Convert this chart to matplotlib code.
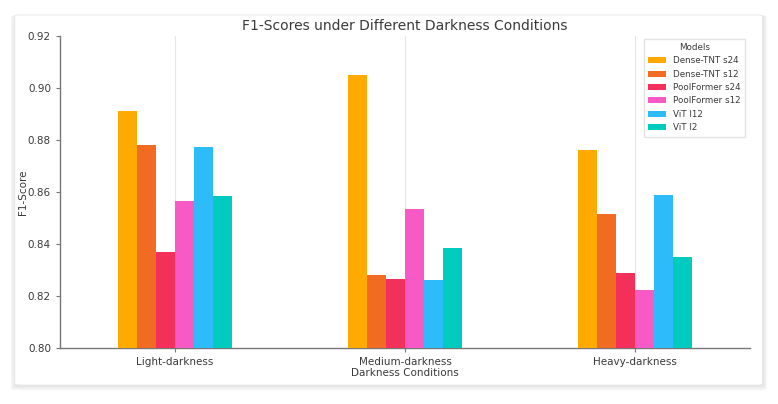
import matplotlib.pyplot as plt
import numpy as np
from matplotlib.patches import FancyBboxPatch

conditions = ['Light-darkness', 'Medium-darkness', 'Heavy-darkness']
models = ['Dense-TNT s24', 'Dense-TNT s12', 'PoolFormer s24', 'PoolFormer s12', 'ViT l12', 'ViT l2']
dense_tnt_s24 = [0.891, 0.905, 0.876]
dense_tnt_s12 = [0.878, 0.828, 0.8515]
poolformer_s24 = [0.837, 0.8265, 0.829]
poolformer_s12 = [0.8565, 0.8535, 0.8223]
vit_l12 = [0.8775, 0.8262, 0.859]
vit_l2 = [0.8585, 0.8385, 0.835]
colors = ['#FFAA00', '#F26B22', '#F2305A', '#F75AC4', '#2DBBF9', '#00CBBE']

series = [dense_tnt_s24, dense_tnt_s12, poolformer_s24, poolformer_s12, vit_l12, vit_l2]

fig = plt.figure(figsize=(7.78, 4.04), dpi=100)
fig.patch.set_facecolor('white')

# card with soft shadow
for i, a in enumerate([0.03, 0.03, 0.04]):
    fig.patches.append(FancyBboxPatch((0.018 - i * 0.002, 0.042 - i * 0.004), 0.964 + i * 0.004, 0.92 + i * 0.004,
                                      boxstyle='round,pad=0,rounding_size=0.005', transform=fig.transFigure,
                                      facecolor='black', alpha=a, edgecolor='none', zorder=-3))
fig.patches.append(FancyBboxPatch((0.019, 0.047), 0.961, 0.916,
                                  boxstyle='round,pad=0,rounding_size=0.005', transform=fig.transFigure,
                                  facecolor='white', edgecolor='#e6e6e6', linewidth=0.6, zorder=-2))

ax = fig.add_axes([60 / 778, 56 / 404, 690 / 778, 312 / 404])
ax.set_facecolor('none')

x = np.arange(len(conditions))
width = 0.083
for i, (vals, name) in enumerate(zip(series, models)):
    ax.bar(x + (i - 2.5) * width, vals, width, label=name, color=colors[i], zorder=3)

ax.set_xlim(-0.5, 2.5)
ax.set_ylim(0.80, 0.92)
ax.set_yticks(np.arange(0.80, 0.921, 0.02))
ax.set_xticks(x)
ax.set_xticklabels(conditions)
ax.grid(axis='x', color='#e6e6e6', linewidth=0.8, zorder=0)

txt = '#3a3a3a'
ax.set_title('F1-Scores under Different Darkness Conditions', fontsize=10, color=txt, pad=4.5)
ax.set_xlabel('Darkness Conditions', fontsize=7.5, color=txt, labelpad=1)
ax.set_ylabel('F1-Score', fontsize=7.5, color=txt, labelpad=0)
ax.tick_params(labelsize=7.5, colors=txt, length=3, color='#777777')
for s in ['top', 'right']:
    ax.spines[s].set_visible(False)
for s in ['left', 'bottom']:
    ax.spines[s].set_color('#777777')
    ax.spines[s].set_linewidth(1.0)

leg = ax.legend(title='Models', loc='upper right', fontsize=6.3, title_fontsize=6.3,
                frameon=True, fancybox=False, edgecolor='#dddddd', borderpad=0.5,
                handlelength=2.0, labelspacing=0.5, bbox_to_anchor=(0.9985, 1.006))
for t in leg.get_texts():
    t.set_color(txt)
leg.get_title().set_color(txt)

fig.savefig('out.png', dpi=100)
